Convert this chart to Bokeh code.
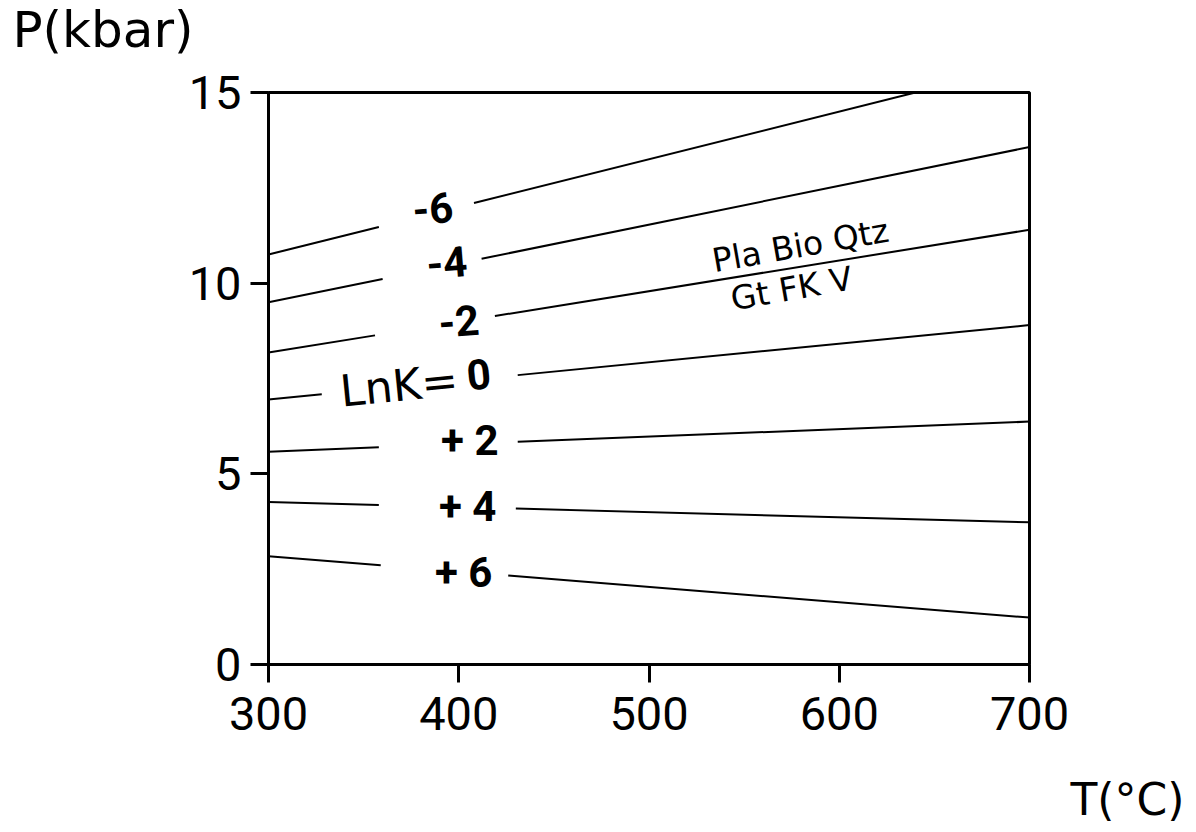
import numpy as np
from bokeh.plotting import figure
from bokeh.models import Range1d, FixedTicker, ColumnDataSource, Label
from bokeh.core.properties import value
from bokeh.embed import file_html
from bokeh.resources import INLINE

# ---------------- data ----------------
x_ticks = [300, 400, 500, 600, 700]
y_ticks = [0, 5, 10, 15]

lnk_labels = ["-6", "-4", "-2", "0", "+ 2", "+ 4", "+ 6"]
t_start = [300, 300, 300, 300, 300, 300, 300]
p_start = [10.75, 9.50, 8.18, 6.95, 5.58, 4.26, 2.84]
t_end = [640, 700, 700, 700, 700, 700, 700]
p_end = [15.0, 13.57, 11.40, 8.90, 6.37, 3.73, 1.23]

# label placement (where each line is interrupted for its label)
gap_t0 = [358, 360, 356, 328, 358, 358, 359]
gap_t1 = [408, 412, 419, 431, 431, 430, 426]
lab_t = [386.4, 393.7, 400.0, 410.5, 405.8, 404.7, 402.6]
lab_p = [11.96, 10.54, 9.00, 7.61, 5.87, 4.14, 2.41]
lab_angle = [0.08, 0.08, 0.08, 0.10, 0.0, 0.0, 0.0]

TICKF = "Roboto"
REG = "DejaVu Sans"

p = figure(width=1196, height=832, output_backend="svg", toolbar_location=None,
           x_range=Range1d(300, 700), y_range=Range1d(0, 15),
           min_border_left=268, min_border_right=167,
           min_border_top=92, min_border_bottom=168)
p.background_fill_color = "white"
p.border_fill_color = "white"
p.xgrid.visible = False
p.ygrid.visible = False
p.outline_line_color = "black"
p.outline_line_width = 3

for ax, ticks in ((p.xaxis, x_ticks), (p.yaxis, y_ticks)):
    ax.ticker = FixedTicker(ticks=ticks)
    ax.axis_line_width = 3
    ax.axis_line_color = "black"
    ax.major_tick_line_width = 3
    ax.major_tick_line_color = "black"
    ax.major_tick_in = 0
    ax.major_tick_out = 18
    ax.minor_tick_line_color = None
    ax.major_label_text_font = TICKF
    ax.major_label_text_font_size = "47px"
    ax.major_label_text_color = "black"
p.xaxis.major_label_standoff = 14
p.yaxis.major_label_standoff = 9

# contour line segments (interrupted for labels)
x0, y0, x1, y1 = [], [], [], []
for i in range(len(lnk_labels)):
    ts = [t_start[i], t_end[i]]
    ps = [p_start[i], p_end[i]]
    pa = float(np.interp(gap_t0[i], ts, ps))
    pb = float(np.interp(gap_t1[i], ts, ps))
    x0 += [t_start[i], gap_t1[i]]
    y0 += [p_start[i], pb]
    x1 += [gap_t0[i], t_end[i]]
    y1 += [pa, p_end[i]]
seg = ColumnDataSource(dict(x0=x0, y0=y0, x1=x1, y1=y1))
p.segment("x0", "y0", "x1", "y1", source=seg, line_color="black", line_width=2)

lab = ColumnDataSource(dict(x=lab_t, y=lab_p, text=lnk_labels, angle=lab_angle))
p.text("x", "y", text="text", angle="angle", source=lab,
       text_font=value(TICKF), text_font_style="bold", text_font_size="42px",
       text_align="center", text_baseline="middle", text_color="black")

# "LnK=" prefix
p.add_layout(Label(x=368.6, y=7.32, text="LnK=", angle=0.10, text_font=REG,
                   text_font_size="44px", text_align="center", text_baseline="middle",
                   text_color="black"))

# reaction label
p.add_layout(Label(x=579.6, y=10.99, text="Pla Bio Qtz", angle=0.175, text_font=REG,
                   text_font_size="33px", text_align="center", text_baseline="middle",
                   text_color="black"))
p.add_layout(Label(x=574.9, y=9.86, text="Gt FK V", angle=0.175, text_font=REG,
                   text_font_size="33px", text_align="center", text_baseline="middle",
                   text_color="black"))

# axis titles (placed in side panels so that they are not clipped to the frame)
p.add_layout(Label(x=165.4, y=16.63, text="P(kbar)", text_font=REG,
                   text_font_size="50px", text_align="left", text_baseline="alphabetic",
                   text_color="black"), "above")
p.add_layout(Label(x=721.5, y=-3.55, text="T(°C)", text_font=REG,
                   text_font_size="44px", text_align="left", text_baseline="alphabetic",
                   text_color="black"), "below")

open("out.html", "w").write(file_html(p, INLINE))
